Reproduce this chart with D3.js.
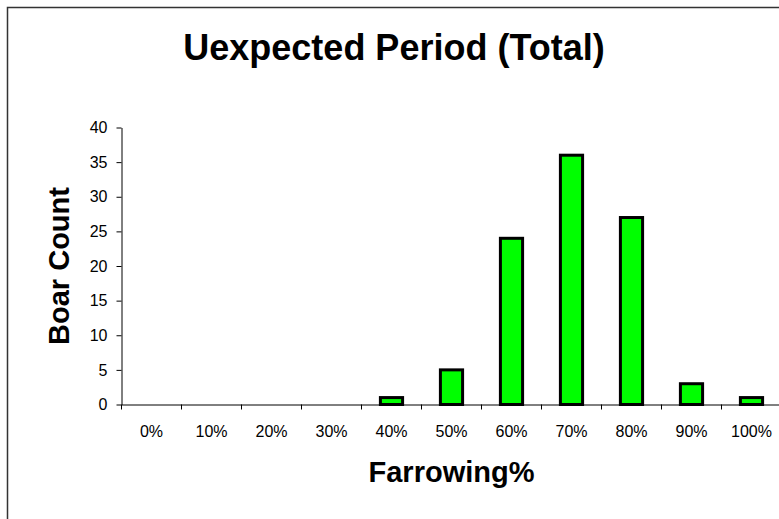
<!DOCTYPE html>
<html>
<head>
<meta charset="utf-8">
<script src="https://cdn.jsdelivr.net/npm/d3@7"></script>
<style>
html,body{margin:0;padding:0;background:#fff;}
svg{display:block;}
text{font-family:"Liberation Sans",Arial,sans-serif;fill:#000;}
</style>
</head>
<body>
<svg id="chart" width="779" height="519"></svg>
<script>
const categories = ["0%","10%","20%","30%","40%","50%","60%","70%","80%","90%","100%"];
const boarCounts = [0,0,0,0,1,5,24,36,27,3,1];
const yTicks = [0,5,10,15,20,25,30,35,40];
const titleText = "Uexpected Period (Total)";
const xTitle = "Farrowing%";
const yTitle = "Boar Count";

(function () {
const svg = d3.select("#chart");
const pLeft = 121.5, pRight = 781.5, pTop = 127.5, pBottom = 404.5;

// outer border (right/bottom edges fall outside the window)
svg.append("rect")
  .attr("x", 7.5).attr("y", 7.5).attr("width", 820).attr("height", 600)
  .attr("fill", "none").attr("stroke", "#333").attr("stroke-width", 1.5);

const x = d3.scaleBand().domain(categories).range([pLeft, pRight]).padding(0);
const y = d3.scaleLinear().domain([0, 40]).range([pBottom, pTop]);

// bars
const barW = x.bandwidth() * 0.37;
svg.append("g").selectAll("rect")
  .data(categories.map((c, i) => ({c, v: boarCounts[i]})).filter(d => d.v > 0))
  .join("rect")
  .attr("x", d => x(d.c) + x.bandwidth()/2 - barW/2)
  .attr("y", d => y(d.v))
  .attr("width", barW)
  .attr("height", d => y(0) - y(d.v))
  .attr("fill", "#00ff00")
  .attr("stroke", "#000")
  .attr("stroke-width", 3);

// y axis
const yAxis = d3.axisLeft(y).tickValues(yTicks).tickSize(5).tickPadding(9).tickSizeOuter(0);
const gy = svg.append("g").attr("transform", `translate(${pLeft},0)`).call(yAxis);
gy.select(".domain").attr("stroke", "#000");
gy.selectAll(".tick line").attr("stroke", "#000");
gy.selectAll(".tick text").attr("font-size", 16).attr("font-family", '"Liberation Sans",Arial,sans-serif');

// x axis: tick marks at category boundaries, labels centered
const xAxis = d3.axisBottom(x).tickSize(0).tickPadding(0).tickSizeOuter(0);
const gx = svg.append("g").attr("transform", `translate(0,${pBottom})`).call(xAxis);
gx.select(".domain").attr("stroke", "#000");
gx.selectAll(".tick text")
  .attr("font-size", 16)
  .attr("font-family", '"Liberation Sans",Arial,sans-serif')
  .attr("dy", null)
  .attr("y", 32);
gx.append("g").selectAll("line")
  .data(categories)
  .join("line")
  .attr("x1", d => x(d)).attr("x2", d => x(d))
  .attr("y1", 0).attr("y2", 5)
  .attr("stroke", "#000");

// titles
svg.append("text")
  .attr("x", 394).attr("y", 60)
  .attr("text-anchor", "middle")
  .attr("font-size", 36).attr("font-weight", "bold")
  .text(titleText);

svg.append("text")
  .attr("x", (pLeft + pRight)/2).attr("y", 482)
  .attr("text-anchor", "middle")
  .attr("font-size", 29).attr("font-weight", "bold")
  .text(xTitle);

svg.append("text")
  .attr("transform", `translate(69,${(pTop+pBottom)/2}) rotate(-90)`)
  .attr("text-anchor", "middle")
  .attr("font-size", 29).attr("font-weight", "bold")
  .text(yTitle);
})();
</script>
</body>
</html>
